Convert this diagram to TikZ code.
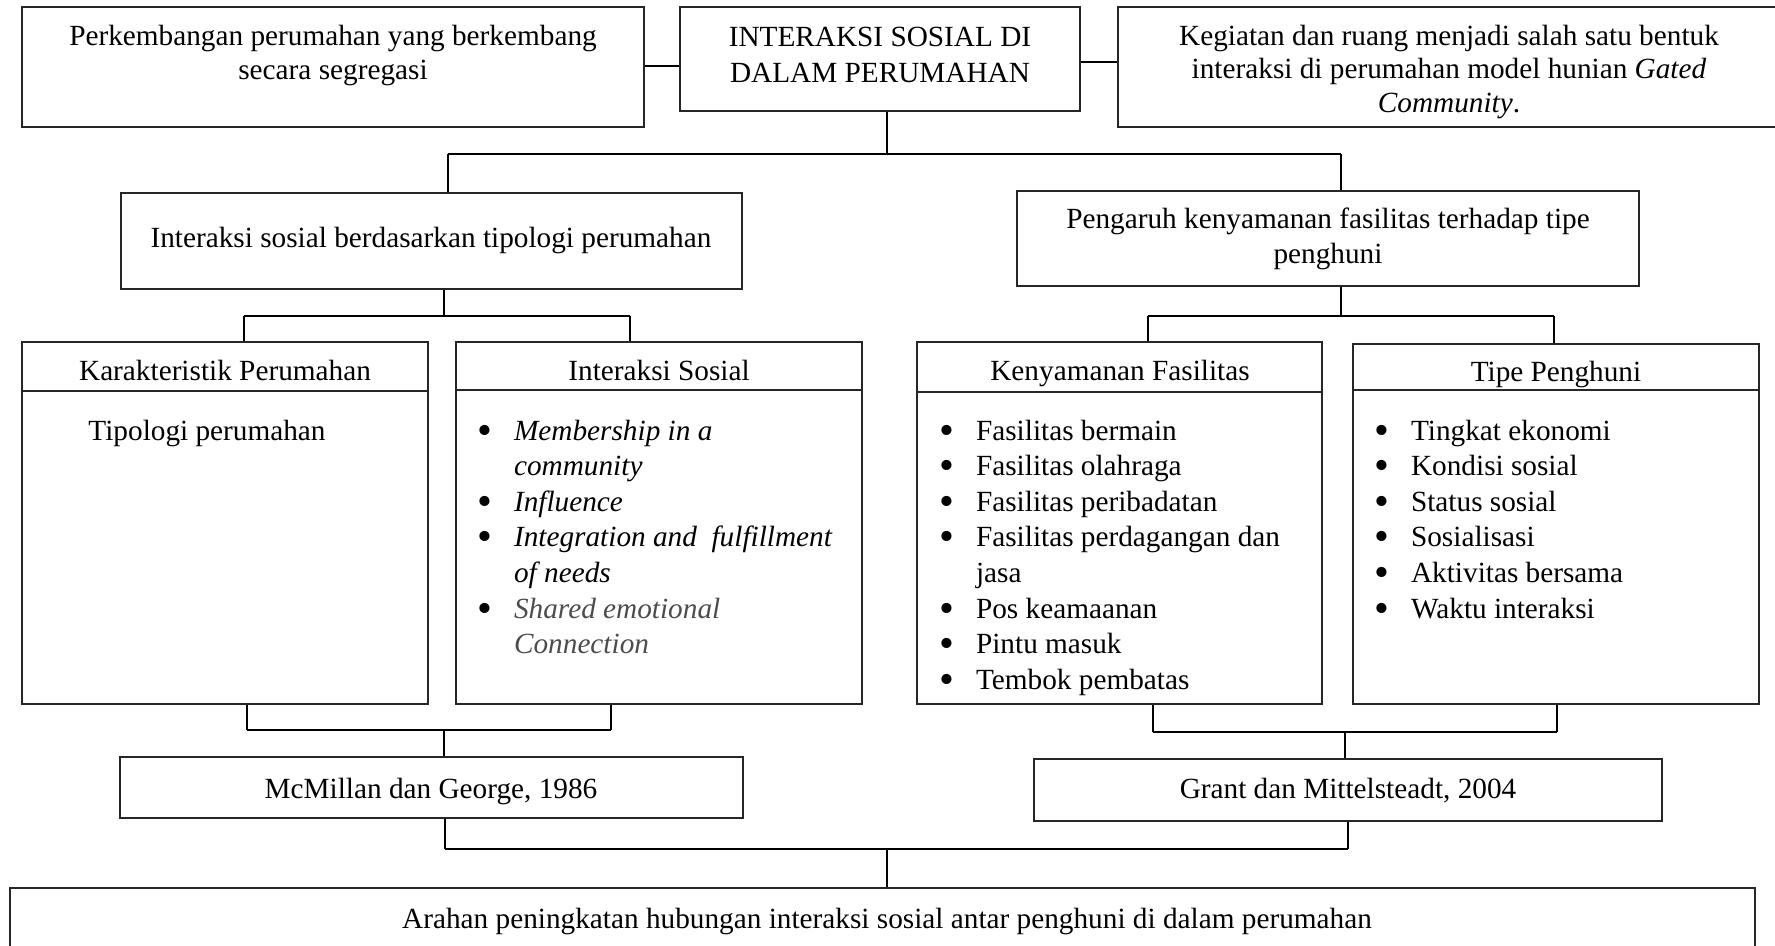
\documentclass[tikz,border=0pt]{standalone}
\usepackage{fontspec}
\usepackage{graphicx}
\setmainfont{Liberation Serif}
\usetikzlibrary{fit}
\newlength\bgap \setlength\bgap{15pt}
\newcommand\bu{\makebox[\bgap][l]{\raisebox{-0.14em}{\scalebox{1.45}{\textbullet}}}}
\newcommand\bn{\hspace*{\bgap}}
\newcommand\ctab[1]{\begin{tabular}[t]{@{}c@{}}#1\end{tabular}}
\newcommand\ltab[1]{\begin{tabular}[t]{@{}l@{}}#1\end{tabular}}
\begin{document}
\begin{tikzpicture}[x=0.41pt,y=-0.41pt,
  box/.style={draw=black!85, line width=0.8pt, inner sep=0pt},
  hbar/.style={draw=black, line width=1.1pt},
  vbar/.style={draw=black, line width=0.5pt},
  txt/.style={inner sep=0pt, font=\fontsize{12}{14.1}\selectfont, anchor=base},
  lst/.style={inner sep=0pt, font=\fontsize{12}{14.6}\selectfont, anchor=base west},
]
\useasboundingbox (0,0) rectangle (1775,945);
\clip (0,0) rectangle (1775,945);
% boxes
\node[box, fit={(22,7) (644,127)}] (A) {};
\node[box, fit={(680,7) (1080,111)}] (B) {};
\node[box, fit={(1118,7) (1790,127)}] (C) {};
\node[box, fit={(121,193) (742,289)}] (D) {};
\node[box, fit={(1017,191) (1639,286)}] (E) {};
\node[box, fit={(22,342) (428,704)}] (F) {};
\node[box, fit={(456,342) (862,704)}] (G) {};
\node[box, fit={(917,342) (1322,704)}] (H) {};
\node[box, fit={(1353,344) (1759,704)}] (I) {};
\node[box, fit={(120,757) (743,818)}] (J) {};
\node[box, fit={(1034,759) (1662,821)}] (K) {};
\node[box, fit={(10,888) (1755,975)}] (L) {};
% title dividers
\draw[box] (F.west |- 0,391) -- (F.east |- 0,391);
\draw[box] (G.west |- 0,390) -- (G.east |- 0,390);
\draw[box] (H.west |- 0,392) -- (H.east |- 0,392);
\draw[box] (I.west |- 0,390) -- (I.east |- 0,390);
% texts
\node[txt] (tA) at (333,45) {\ctab{Perkembangan perumahan yang berkembang\\ secara segregasi}};
\node[txt, font=\fontsize{12}{14.8}\selectfont] (tB) at (880,46) {\ctab{INTERAKSI SOSIAL DI\\ DALAM PERUMAHAN}};
\node[txt, font=\fontsize{12}{13.8}\selectfont] (tC) at (1449,45) {\ctab{Kegiatan dan ruang menjadi salah satu bentuk\\ interaksi di perumahan model hunian \textit{Gated}\\ \textit{Community}.}};
\node[txt] (tD) at (431,247) {Interaksi sosial berdasarkan tipologi perumahan};
\node[txt, font=\fontsize{12}{14.4}\selectfont] (tE) at (1328,228) {\ctab{Pengaruh kenyamanan fasilitas terhadap tipe\\ penghuni}};
\node[txt] (tF) at (225,380) {Karakteristik Perumahan};
\node[txt] (tG) at (659,380) {Interaksi Sosial};
\node[txt] (tH) at (1120,380) {Kenyamanan Fasilitas};
\node[txt] (tI) at (1556,381) {Tipe Penghuni};
\node[txt, anchor=base west] (bF) at (88,440) {Tipologi perumahan};
\node[lst] (bG) at (477,440) {\ltab{\bu\textit{Membership in a}\\ \bn\textit{community}\\ \bu\textit{Influence}\\ \bu\textit{Integration and\ \ fulfillment}\\ \bn\textit{of needs}\\ \bu{\color{black!70}\textit{Shared emotional}}\\ \bn{\color{black!70}\textit{Connection}}}};
\node[lst] (bH) at (939,440) {\ltab{\bu Fasilitas bermain\\ \bu Fasilitas olahraga\\ \bu Fasilitas peribadatan\\ \bu Fasilitas perdagangan dan\\ \bn jasa\\ \bu Pos keamaanan\\ \bu Pintu masuk\\ \bu Tembok pembatas}};
\node[lst] (bI) at (1374,440) {\ltab{\bu Tingkat ekonomi\\ \bu Kondisi sosial\\ \bu Status sosial\\ \bu Sosialisasi\\ \bu Aktivitas bersama\\ \bu Waktu interaksi}};
\node[txt] (tJ) at (431,798) {McMillan dan George, 1986};
\node[txt] (tK) at (1348,798) {Grant dan Mittelsteadt, 2004};
\node[txt] (tL) at (887,928) {Arahan peningkatan hubungan interaksi sosial antar penghuni di dalam perumahan};
% top connectors
\draw[hbar] (A.east |- 0,66) -- (B.west |- 0,66);
\draw[hbar] (B.east |- 0,62) -- (C.west |- 0,62);
% tree 1
\coordinate (j1) at (887,154);
\coordinate (j1l) at (448,154);
\coordinate (j1r) at (1341,154);
\draw[vbar] (B.south -| j1) -- (j1);
\draw[hbar] (j1l) -- (j1r);
\draw[vbar] (j1l) -- (D.north -| j1l);
\draw[vbar] (j1r) -- (E.north -| j1r);
% tree 2
\coordinate (j2) at (444,316);
\coordinate (j2l) at (244,316);
\coordinate (j2r) at (630,316);
\draw[vbar] (D.south -| j2) -- (j2);
\draw[hbar] (j2l) -- (j2r);
\draw[vbar] (j2l) -- (F.north -| j2l);
\draw[vbar] (j2r) -- (G.north -| j2r);
% tree 3
\coordinate (j3) at (1341,316);
\coordinate (j3l) at (1148,316);
\coordinate (j3r) at (1554,316);
\draw[vbar] (E.south -| j3) -- (j3);
\draw[hbar] (j3l) -- (j3r);
\draw[vbar] (j3l) -- (H.north -| j3l);
\draw[vbar] (j3r) -- (I.north -| j3r);
% tree 4
\coordinate (j4) at (444,730);
\coordinate (j4l) at (247,730);
\coordinate (j4r) at (611,730);
\draw[vbar] (F.south -| j4l) -- (j4l);
\draw[vbar] (G.south -| j4r) -- (j4r);
\draw[hbar] (j4l) -- (j4r);
\draw[vbar] (j4) -- (J.north -| j4);
% tree 5
\coordinate (j5) at (1345,732);
\coordinate (j5l) at (1153,732);
\coordinate (j5r) at (1557,732);
\draw[vbar] (H.south -| j5l) -- (j5l);
\draw[vbar] (I.south -| j5r) -- (j5r);
\draw[hbar] (j5l) -- (j5r);
\draw[vbar] (j5) -- (K.north -| j5);
% tree 6
\coordinate (j6) at (887,849);
\coordinate (j6l) at (445,849);
\coordinate (j6r) at (1348,849);
\draw[vbar] (J.south -| j6l) -- (j6l);
\draw[vbar] (K.south -| j6r) -- (j6r);
\draw[hbar] (j6l) -- (j6r);
\draw[vbar] (j6) -- (L.north -| j6);
\end{tikzpicture}
\end{document}
